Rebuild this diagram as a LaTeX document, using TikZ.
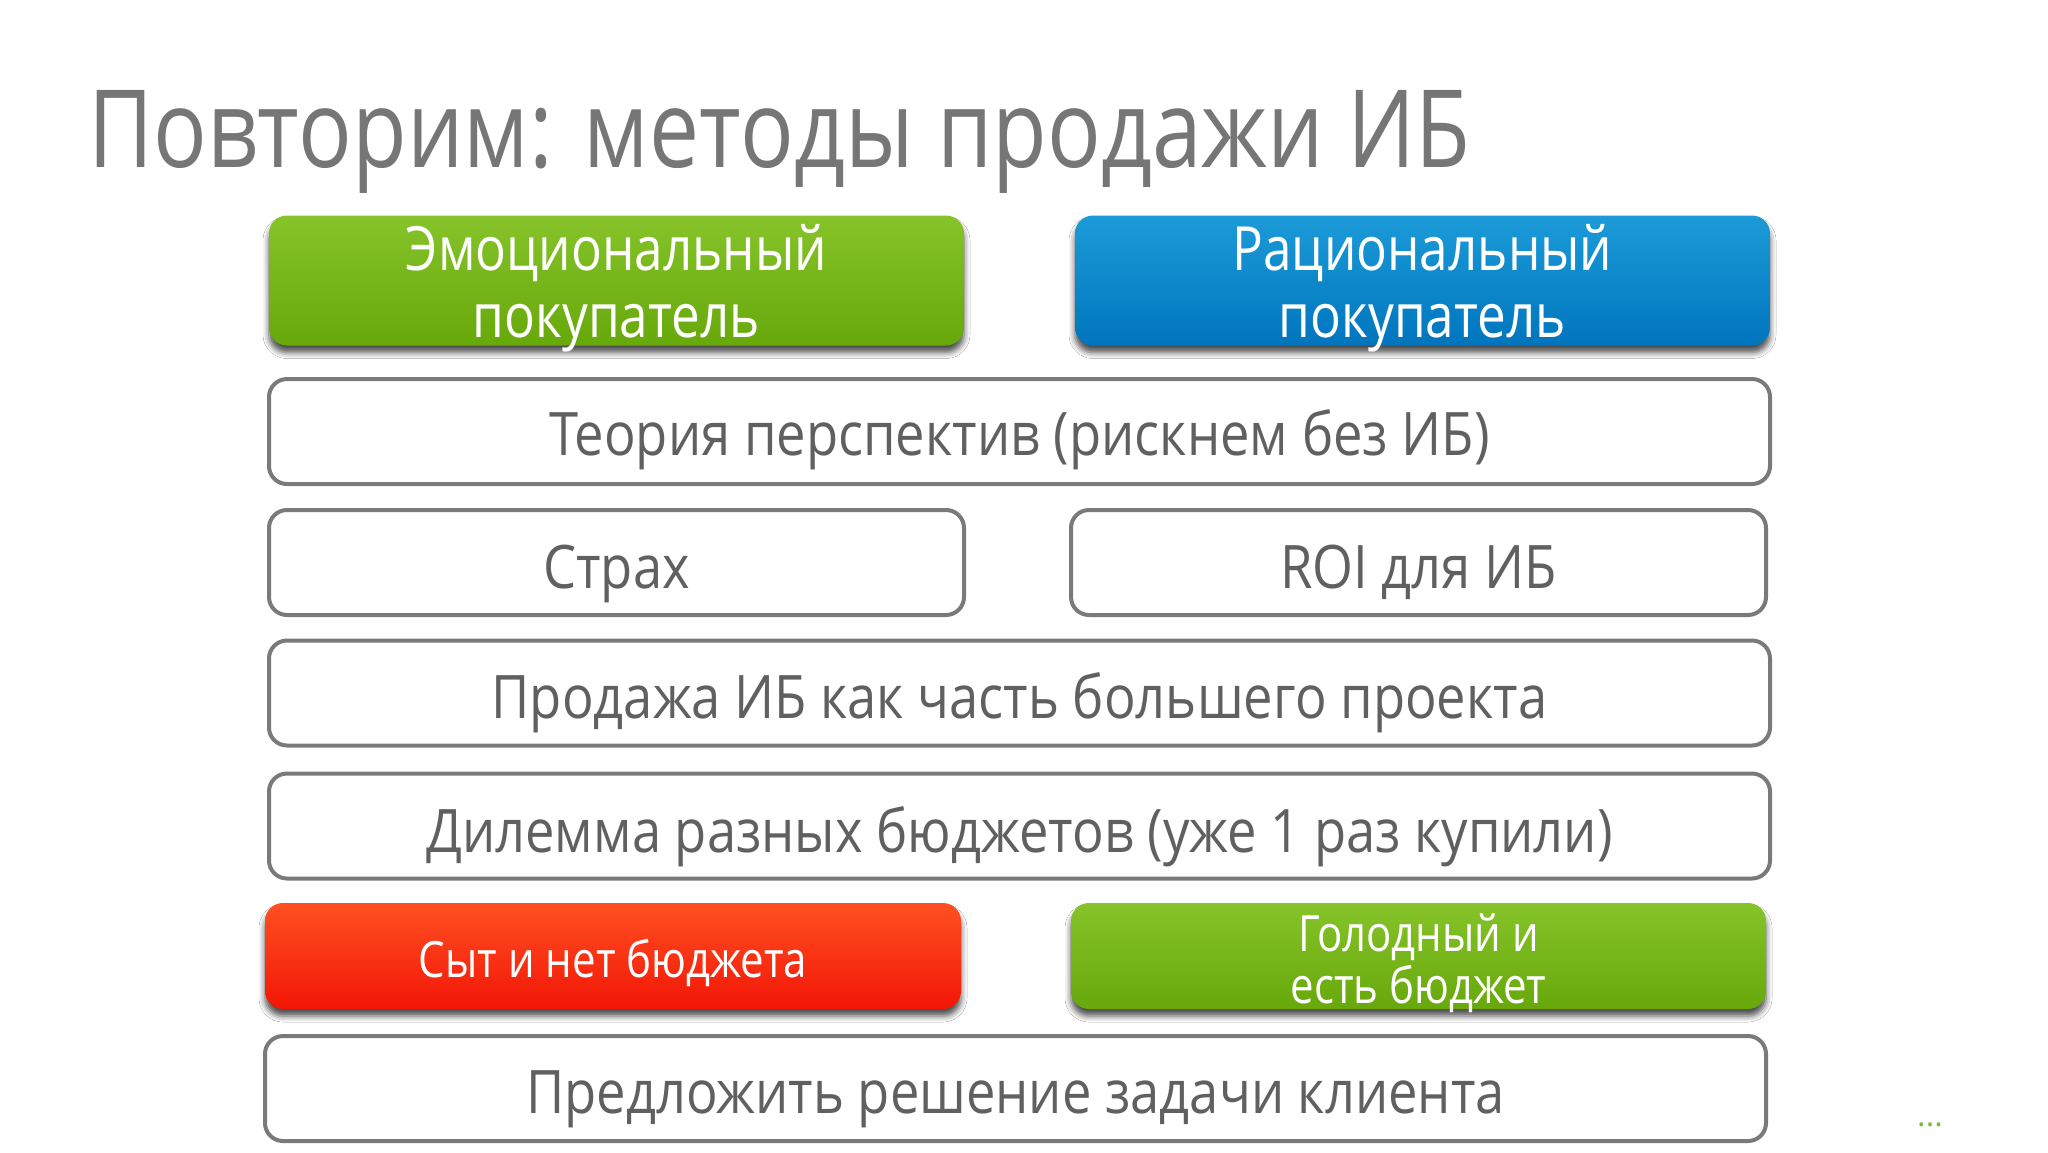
\documentclass[tikz,border=0pt]{standalone}
\usepackage{fontspec}
\setmainfont{Open Sans}
\newfontfamily\condfont[FakeStretch=0.84]{Open Sans}
\newfontfamily\boxfont[FakeStretch=0.875]{Open Sans}
\newfontfamily\titlefont[FakeStretch=0.826]{Open Sans}
\usetikzlibrary{shadings,shadows.blur}
\definecolor{txtgray}{HTML}{606060}
\definecolor{titlegray}{HTML}{767676}
\definecolor{boxgray}{HTML}{7A7A7A}
\definecolor{gtop}{HTML}{86C42A}
\definecolor{gbot}{HTML}{67A80B}
\definecolor{btop}{HTML}{1C9BD8}
\definecolor{bbot}{HTML}{0075BE}
\definecolor{rtop}{HTML}{FF5022}
\definecolor{rbot}{HTML}{F21606}
\definecolor{dotgreen}{HTML}{7DBB42}
\tikzset{
  wbox/.style={draw=boxgray, line width=4pt, rounded corners=18pt, fill=white, minimum height=105pt, inner sep=0pt},
  cbox/.style={rounded corners=18pt, minimum height=130pt, inner sep=0pt,
     blur shadow={shadow xshift=0pt, shadow yshift=-7pt, shadow blur radius=6pt, shadow opacity=70}},
  gbox/.style={cbox, top color=gtop, bottom color=gbot},
  bbox/.style={cbox, top color=btop, bottom color=bbot},
  rbox/.style={cbox, top color=rtop, bottom color=rbot, minimum height=106pt},
  gbox2/.style={cbox, top color=gtop, bottom color=gbot, minimum height=106pt},
  wtxt/.style={anchor=base, text=txtgray, inner sep=0pt, font=\boxfont\fontsize{60}{72}\selectfont},
  ctxt/.style={anchor=base, text=white, inner sep=0pt, font=\condfont\fontsize{61}{72}\selectfont},
  stxt/.style={anchor=base, text=white, inner sep=0pt, font=\condfont\fontsize{50}{60}\selectfont}
}
\begin{document}
\begin{tikzpicture}[x=1pt, y=-1pt]
\useasboundingbox[fill=white] (0,0) rectangle (2048,1152);
% title
\node[anchor=base west, inner sep=0pt, text=titlegray, font=\titlefont\fontsize{108}{120}\selectfont] (title) at (88,167) {Повторим: методы продажи ИБ};
% top colored boxes
\node[gbox, minimum width=695pt] (emo) at (616.5,280.5) {};
\node[bbox, minimum width=695pt] (rat) at (1422.5,280.5) {};
\node[ctxt] (emo1) at (616.5,270) {Эмоциональный};
\node[ctxt] (emo2) at (616.5,337) {покупатель};
\node[ctxt] (rat1) at (1422.5,270) {Рациональный};
\node[ctxt] (rat2) at (1422.5,337) {покупатель};
% white boxes
\node[wbox, minimum width=1501pt] (teor) at (1019.5,431.5) {};
\node[wtxt] (teort) at (1019.5,455) {Теория перспектив (рискнем без ИБ)};
\node[wbox, minimum width=695pt] (fear) at (616.5,562.5) {};
\node[wtxt] (feart) at (616.5,588) {Страх};
\node[wbox, minimum width=695pt] (roi) at (1418.5,562.5) {};
\node[wtxt] (roit) at (1418.5,588) {ROI для ИБ};
\node[wbox, minimum width=1501pt] (sale) at (1019.5,693) {};
\node[wtxt] (salet) at (1019.5,718) {Продажа ИБ как часть большего проекта};
\node[wbox, minimum width=1501pt] (dil) at (1019.5,826) {};
\node[wtxt] (dilt) at (1019.5,852) {Дилемма разных бюджетов (уже 1 раз купили)};
% bottom colored boxes
\node[rbox, minimum width=696pt] (syt) at (613,956) {};
\node[stxt] (sytt) at (613,977) {Сыт и нет бюджета};
\node[gbox2, minimum width=695pt] (gol) at (1418.5,956) {};
\node[stxt] (gol1) at (1418.5,951) {Голодный и};
\node[stxt] (gol2) at (1418.5,1003) {есть бюджет};
% last white box
\node[wbox, minimum width=1501pt] (offer) at (1015.5,1088.5) {};
\node[wtxt] (offert) at (1015.5,1113) {Предложить решение задачи клиента};
% dots
\node[anchor=base, inner sep=0pt, text=dotgreen, font=\fontsize{32}{34}\selectfont] (dots) at (1930,1126) {...};
\end{tikzpicture}
\end{document}
